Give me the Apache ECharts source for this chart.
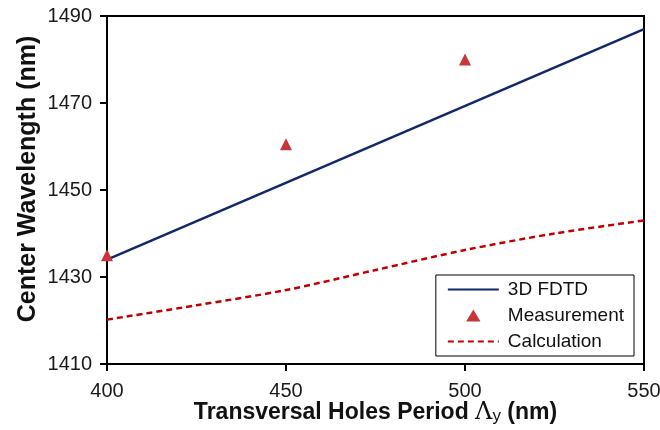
<!DOCTYPE html>
<html>
<head>
<meta charset="utf-8">
<script src="https://cdn.jsdelivr.net/npm/echarts@6/dist/echarts.min.js"></script>
<style>html,body{margin:0;padding:0;background:#fff}#c{width:660px;height:430px}</style>
</head>
<body>
<div id="c"></div>
<script>
// Data
const fdtdX = [400, 550];
const fdtdY = [1434, 1487];
const measX = [400, 450, 500];
const measY = [1435, 1460.5, 1480];
const calcX = [400, 425, 450, 475, 500, 525, 550];
const calcY = [1420.2, 1423.5, 1427, 1431.6, 1436.2, 1440, 1443];
const xTicks = [400, 450, 500, 550];
const yTicks = [1410, 1430, 1450, 1470, 1490];

const zip = (xs, ys) => xs.map((x, i) => [x, ys[i]]);
const font = 'Liberation Sans, Arial, sans-serif';
const hidden = {color: 'rgba(0,0,0,0)', borderWidth: 0, opacity: 0};

const chart = echarts.init(document.getElementById('c'), null, {renderer: 'canvas'});
chart.setOption({
  animation: false,
  backgroundColor: '#fff',
  grid: {left: 107, right: 16, top: 16, bottom: 66, show: true, borderColor: '#000', borderWidth: 2,
         containLabel: false, outerBoundsMode: 'none'},
  xAxis: {
    type: 'value', min: xTicks[0], max: xTicks[xTicks.length - 1], interval: 50,
    axisLine: {show: true, lineStyle: {color: '#000', width: 2}},
    axisTick: {show: true, inside: false, length: 7, lineStyle: {color: '#000', width: 2}},
    splitLine: {show: false},
    axisLabel: {color: '#1a1a1a', fontSize: 20, fontFamily: font, margin: 17, formatter: v => String(v)},
    name: '{b|Transversal Holes Period }{l|Λ}{s|y}{b| (nm)}',
    nameLocation: 'middle', nameGap: 37, nameMoveOverlap: false,
    nameTextStyle: {
      rich: {
        b: {fontSize: 23, fontWeight: 'bold', fontFamily: font, color: '#111'},
        l: {fontSize: 24, fontFamily: 'DejaVu Serif, serif', color: '#111'},
        s: {fontSize: 17, fontFamily: font, color: '#111', padding: [6, 0, 0, 0]}
      }
    }
  },
  yAxis: {
    type: 'value', min: yTicks[0], max: yTicks[yTicks.length - 1], interval: 20,
    axisLine: {show: true, lineStyle: {color: '#000', width: 2}},
    axisTick: {show: true, inside: false, length: 7, lineStyle: {color: '#000', width: 2}},
    splitLine: {show: false},
    axisLabel: {color: '#1a1a1a', fontSize: 20, fontFamily: font, margin: 15, formatter: v => String(v)},
    name: 'Center Wavelength (nm)', nameLocation: 'middle', nameGap: 66, nameMoveOverlap: false,
    nameTextStyle: {fontSize: 25, fontWeight: 'bold', fontFamily: font, color: '#111', padding: [0, 0, 0, 22]}
  },
  legend: {
    orient: 'vertical', right: 26, bottom: 74,
    backgroundColor: '#fff', borderColor: '#000', borderWidth: 1, borderRadius: 0,
    padding: [5, 10, 5, 11], itemGap: 7, itemWidth: 51, itemHeight: 12, symbolKeepAspect: true,
    textStyle: {fontSize: 19, fontFamily: font, color: '#111', padding: [0, 0, 0, 4]},
    data: [
      {name: '3D FDTD', itemStyle: hidden},
      {name: 'Measurement', icon: 'path://M6,0 L12,10 L0,10 Z', itemStyle: {color: '#c8363b', opacity: 1}},
      {name: 'Calculation', itemStyle: hidden}
    ]
  },
  series: [
    {
      name: '3D FDTD', type: 'line', data: zip(fdtdX, fdtdY), showSymbol: false, symbol: 'none',
      lineStyle: {color: '#13286b', width: 2.5}, itemStyle: {color: '#13286b'}, z: 3
    },
    {
      name: 'Calculation', type: 'line', data: zip(calcX, calcY), showSymbol: false, symbol: 'none', smooth: 0.3,
      lineStyle: {color: '#c00000', width: 2.5, type: [6, 4]}, itemStyle: {color: '#c00000'}, z: 3
    },
    {
      name: 'Measurement', type: 'scatter', data: zip(measX, measY), symbol: 'triangle', symbolSize: 12,
      itemStyle: {color: '#c8363b', opacity: 1}, z: 4, clip: false
    }
  ]
});
</script>
</body>
</html>
